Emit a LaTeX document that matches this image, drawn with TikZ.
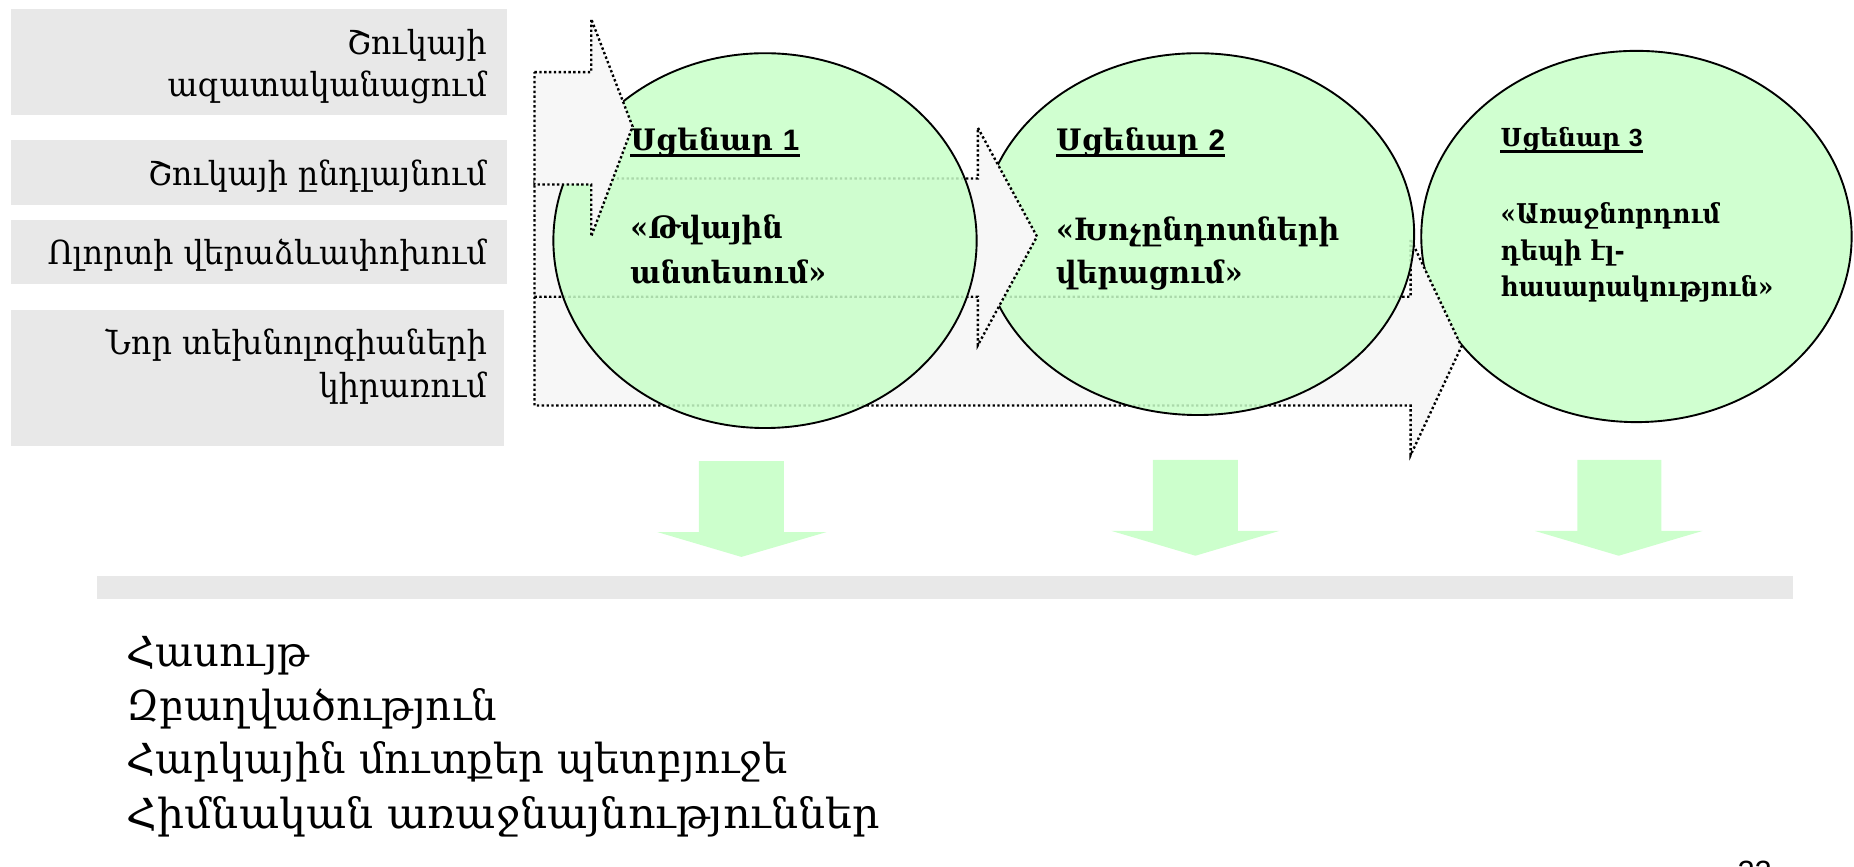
\documentclass[tikz,border=0pt]{standalone}
\usepackage{fontspec}
\setmainfont{DejaVu Serif}
\newfontfamily\armfont{DejaVu Serif}[FakeStretch=0.96]
\newfontfamily\armlist{DejaVu Serif}[FakeStretch=0.97]
\newfontfamily\armlistw{DejaVu Serif}[FakeStretch=1.03]
\newfontfamily\armbub{DejaVu Serif}[FakeStretch=0.93]
\newfontfamily\armsmall{DejaVu Serif}[FakeStretch=0.9]
\newfontfamily\armtitle{DejaVu Serif}
\newfontfamily\arialfont{Liberation Sans}
\definecolor{boxgrey}{HTML}{E8E8E8}
\definecolor{arrowgrey}{HTML}{F7F7F7}
\definecolor{bubblegreen}{HTML}{C8FFC8}
\definecolor{downgreen}{HTML}{CCFFCC}
\tikzset{
  labelbox/.style={fill=boxgrey, draw=none, inner sep=0pt, anchor=north west},
  flowarrow/.style={fill=arrowgrey, draw=black, line width=2pt, dash pattern=on 2pt off 2.1pt},
  bubblestyle/.style={fill=bubblegreen, fill opacity=0.85, draw=black, line width=1.6pt},
  downarrow/.style={fill=downgreen, draw=none},
  lefttext/.style={font=\armfont\fontsize{28}{34}\selectfont, inner sep=0pt, anchor=base east},
  bubtitle/.style={font=\armtitle\bfseries\fontsize{25}{28}\selectfont, inner sep=0pt, anchor=base west},
  bubtext/.style={font=\armbub\bfseries\fontsize{26}{30}\selectfont, inner sep=0pt, anchor=base west},
  bubtitles/.style={font=\armtitle\bfseries\fontsize{21}{24}\selectfont, inner sep=0pt, anchor=base west},
  bubtexts/.style={font=\armsmall\bfseries\fontsize{23}{26}\selectfont, inner sep=0pt, anchor=base west},
  listtext/.style={font=\armlist\fontsize{35}{40}\selectfont, inner sep=0pt, anchor=base west},
  underl/.style={line width=2.4pt}
}
\begin{document}
\begin{tikzpicture}[x=1pt,y=-1pt]
\useasboundingbox (0,0) rectangle (1568,733);

% left label boxes
\node[labelbox, minimum width=420pt, minimum height=90pt] (box1) at (9,7) {};
\node[labelbox, minimum width=420pt, minimum height=55pt] (box2) at (9,118) {};
\node[labelbox, minimum width=420pt, minimum height=54pt] (box3) at (9,186) {};
\node[labelbox, minimum width=417pt, minimum height=115pt] (box4) at (9,262) {};
\node[lefttext] (l1a) at (412,46) {Շուկայի};
\node[lefttext] (l1b) at (412,82) {ազատականացում};
\node[lefttext] (l2) at (412,157) {Շուկայի ընդլայնում};
\node[lefttext] (l3) at (412,224) {Ոլորտի վերաձևափոխում};
\node[lefttext] (l4a) at (412,300) {Նոր տեխնոլոգիաների};
\node[lefttext] (l4b) at (412,336) {կիրառում};

% ellipses and flow arrows (stacking: E3, A3, E2, A2, E1, A1)
\path[bubblestyle] (1384,200) ellipse [x radius=182, y radius=157];
\path[flowarrow] (452,251) -- (1193,251) -- (1193,202) -- (1236,293) -- (1193,385) -- (1193,343) -- (452,343) -- cycle;
\path[bubblestyle] (1013,198) ellipse [x radius=183, y radius=153];
\path[flowarrow] (452,151) -- (827,151) -- (827,108) -- (877,200) -- (827,292) -- (827,251) -- (452,251) -- cycle;
\path[bubblestyle] (647,203.5) ellipse [x radius=179, y radius=158.5];
\path[flowarrow] (452,61) -- (500,61) -- (500,16) -- (535,107) -- (500,200) -- (500,156) -- (452,156) -- cycle;

% bubble texts
\node[bubtitle] (s1) at (533,127) {Սցենար {\arialfont 1}};
\draw[underl] ([yshift=-4.5pt]s1.base west) -- ([yshift=-4.5pt]s1.base east);
\node[bubtext] (t1a) at (533,202) {«Թվային};
\node[bubtext] (t1b) at (533,240) {անտեսում»};

\node[bubtitle] (s2) at (893,127) {Սցենար {\arialfont 2}};
\draw[underl] ([yshift=-4.5pt]s2.base west) -- ([yshift=-4.5pt]s2.base east);
\node[bubtext] (t2a) at (893,203) {«Խոչընդոտների};
\node[bubtext] (t2b) at (893,240) {վերացում»};

\node[bubtitles] (s3) at (1269,124) {Սցենար {\arialfont 3}};
\draw[underl] ([yshift=-4pt]s3.base west) -- ([yshift=-4pt]s3.base east);
\node[bubtexts] (t3a) at (1269,189) {«Առաջնորդում};
\node[bubtexts] (t3b) at (1269,220) {դեպի էլ-};
\node[bubtexts] (t3c) at (1269,251) {հասարակություն»};

% green down arrows
\path[downarrow] (591,390) -- (663,390) -- (663,450) -- (699,450) -- (627,471) -- (556,450) -- (591,450) -- cycle;
\path[downarrow] (975,389) -- (1047,389) -- (1047,449) -- (1082,449) -- (1011,470) -- (940,449) -- (975,449) -- cycle;
\path[downarrow] (1334,389) -- (1405,389) -- (1405,449) -- (1440,449) -- (1369,470) -- (1298,449) -- (1334,449) -- cycle;

% grey bar
\node[labelbox, minimum width=1434pt, minimum height=19pt] (bar) at (82,487) {};

% list
\node[listtext] (r1) at (107,564) {Հասույթ};
\node[listtext] (r2) at (107,609) {Զբաղվածություն};
\node[listtext] (r3) at (107,654) {Հարկային մուտքեր պետբյուջե};
\node[listtext, font=\armlistw\fontsize{35}{40}\selectfont] (r4) at (107,701) {Հիմնական առաջնայնություններ};

% page number (cut off at the lower edge, as in the slide)
\node[font=\arialfont\fontsize{26}{30}\selectfont, inner sep=0pt, anchor=base] (pg) at (1484,746) {22};
\end{tikzpicture}
\end{document}
